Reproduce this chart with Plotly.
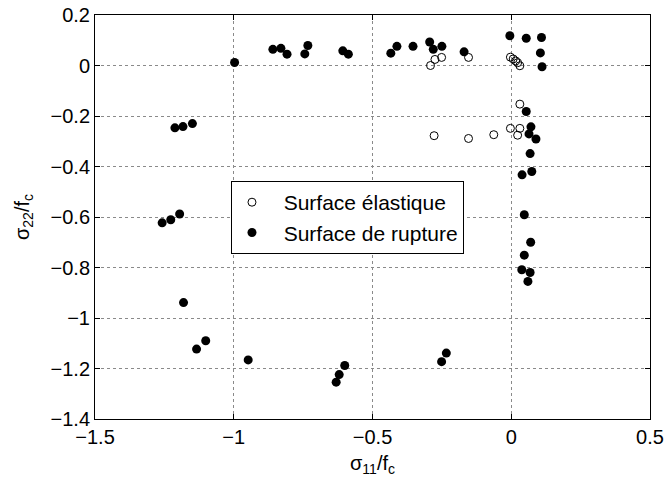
import plotly.graph_objects as go

# Elastic surface points (sigma11/fc, sigma22/fc)
elastic_s11 = [-0.291, -0.275, -0.251, -0.154, -0.003, 0.007, 0.016, 0.023, 0.031,
               0.031, -0.278, -0.154, -0.063, -0.003, 0.023, 0.031]
elastic_s22 = [0.000, 0.024, 0.032, 0.032, 0.033, 0.026, 0.018, 0.011, -0.001,
               -0.153, -0.278, -0.289, -0.274, -0.249, -0.276, -0.249]

# Failure surface points
rupture_s11 = [-0.997, -0.859, -0.830, -0.808, -0.744, -0.733, -0.607, -0.587,
               -0.434, -0.412, -0.354, -0.294, -0.281, -0.250, -0.170,
               -0.005, 0.054, 0.109, 0.105, 0.111,
               -1.212, -1.183, -1.149,
               0.054, 0.071, 0.064, 0.089, 0.068,
               0.039, 0.074, 0.047, 0.070, 0.047, 0.038, 0.068, 0.060,
               -1.258, -1.227, -1.195,
               -1.181, -1.101, -1.134, -0.948, -0.600, -0.620, -0.631, -0.234, -0.251]
rupture_s22 = [0.012, 0.064, 0.068, 0.045, 0.046, 0.079, 0.058, 0.045,
               0.049, 0.076, 0.076, 0.093, 0.064, 0.076, 0.054,
               0.118, 0.108, 0.111, 0.050, -0.005,
               -0.247, -0.242, -0.230,
               -0.182, -0.243, -0.271, -0.291, -0.349,
               -0.433, -0.420, -0.591, -0.700, -0.751, -0.809, -0.820, -0.855,
               -0.623, -0.611, -0.588,
               -0.939, -1.090, -1.123, -1.166, -1.188, -1.224, -1.254, -1.139, -1.173]

x_ticks = [-1.5, -1, -0.5, 0, 0.5]
y_ticks = [0.2, 0, -0.2, -0.4, -0.6, -0.8, -1, -1.2, -1.4]

FONT = "Liberation Sans, Arial, Helvetica, sans-serif"
PAD = "\u00a0\u00a0"  # extra gap between legend symbol and label


def tick_text(vals):
    return [f"{v:g}".replace("-", "\u2212") for v in vals]


fig = go.Figure()
fig.add_trace(go.Scatter(
    x=elastic_s11, y=elastic_s22, mode="markers", name=PAD + "Surface élastique",
    marker=dict(symbol="circle-open", size=8, color="black", line=dict(width=1, color="black")),
))
fig.add_trace(go.Scatter(
    x=rupture_s11, y=rupture_s22, mode="markers", name=PAD + "Surface de rupture",
    marker=dict(symbol="circle", size=9, color="black"),
))

axis_common = dict(
    showline=True, linecolor="black", linewidth=1, mirror="ticks",
    ticks="inside", ticklen=5, tickcolor="black",
    showgrid=True, gridcolor="#8a8a8a", griddash="dot", gridwidth=1,
    zeroline=False, automargin=False,
    tickfont=dict(family=FONT, size=20, color="black"),
)

fig.update_layout(
    width=666, height=477,
    margin=dict(l=95, r=16, t=15, b=58),
    paper_bgcolor="white", plot_bgcolor="white",
    font=dict(family=FONT, size=20, color="black"),
    showlegend=True,
    legend=dict(
        x=0.245, y=0.589, xanchor="left", yanchor="top",
        bgcolor="white", bordercolor="black", borderwidth=1,
        font=dict(family=FONT, size=21, color="black"),
        itemwidth=30, tracegroupgap=0,
    ),
    xaxis=dict(
        range=[-1.5, 0.5], tickvals=x_ticks, ticktext=tick_text(x_ticks),
        title=dict(text="σ<sub>11</sub>/f<sub>c</sub>", font=dict(family=FONT, size=20)),
        **axis_common,
    ),
    yaxis=dict(
        range=[-1.4, 0.2], tickvals=y_ticks, ticktext=tick_text(y_ticks),
        title=dict(text="σ<sub>22</sub>/f<sub>c</sub>", font=dict(family=FONT, size=20)),
        **axis_common,
    ),
)

fig.write_html("out.html")
